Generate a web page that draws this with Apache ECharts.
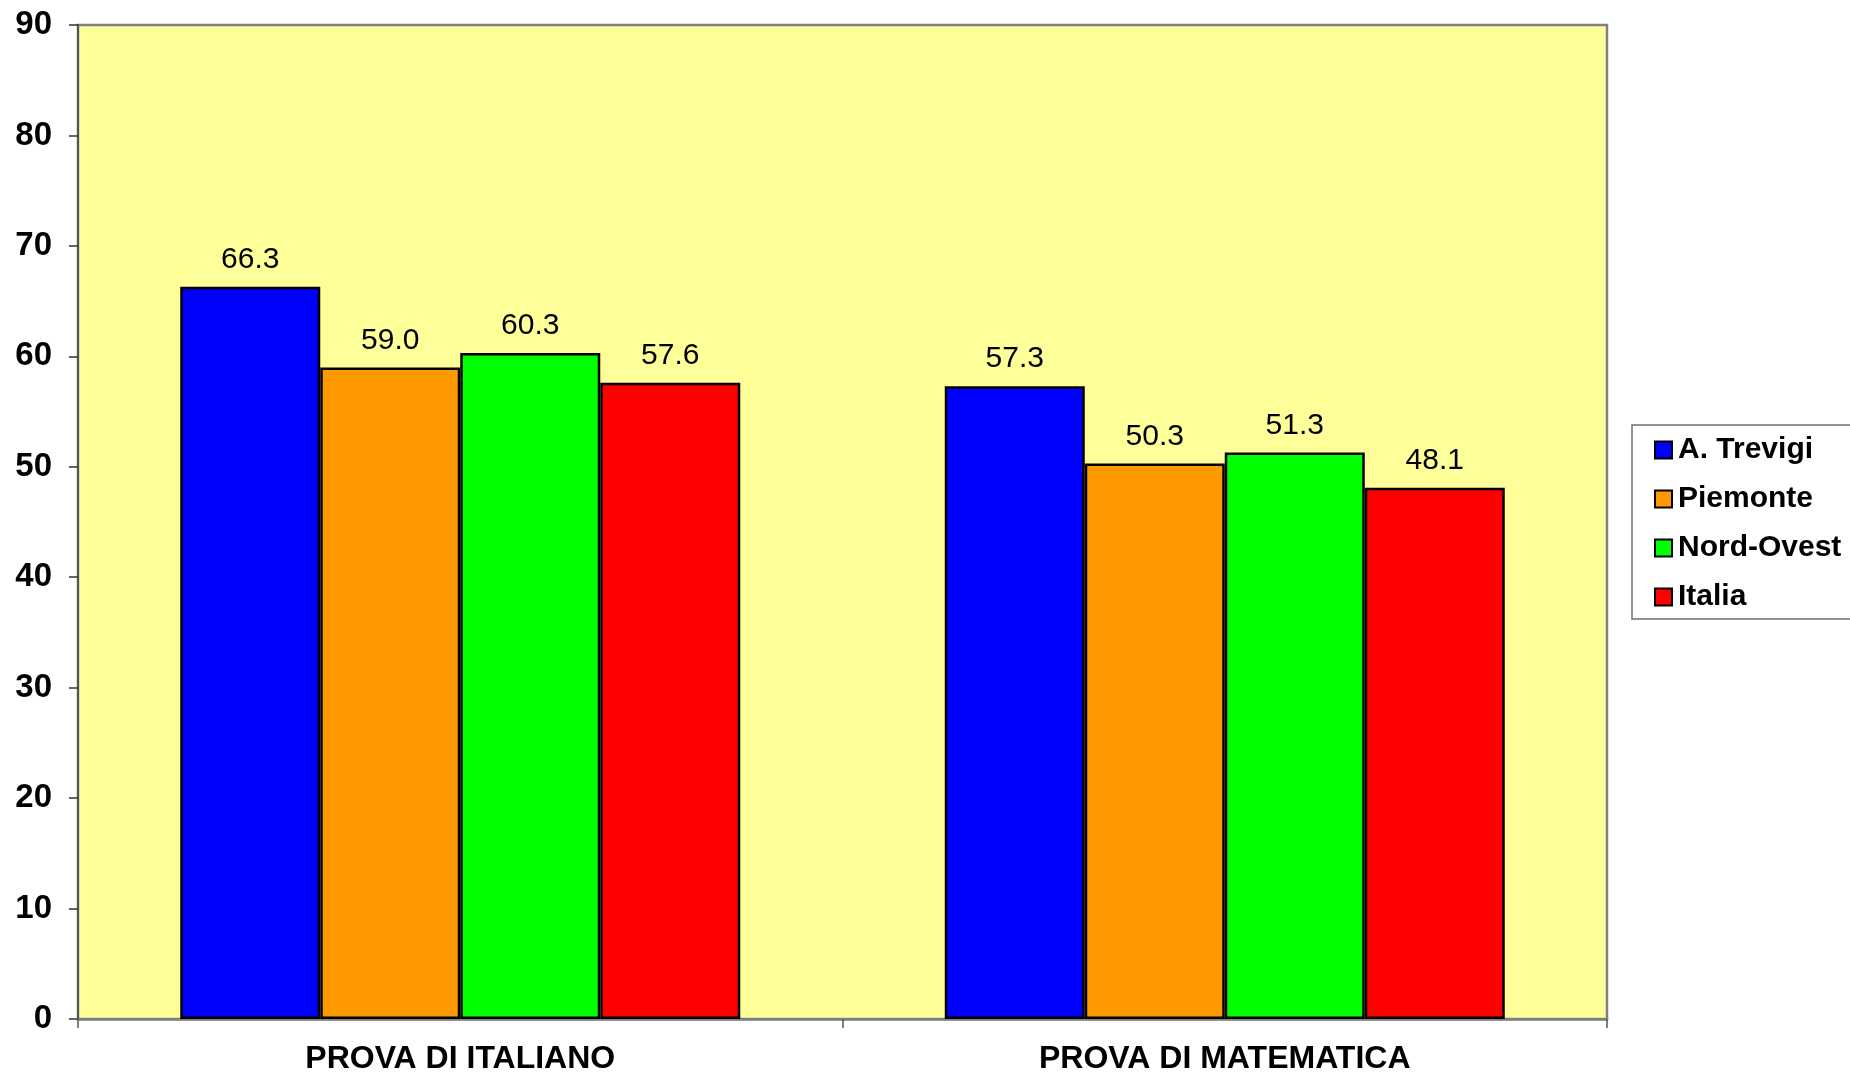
<!DOCTYPE html>
<html>
<head>
<meta charset="utf-8">
<style>
html,body{margin:0;padding:0;background:#fff;}
#chart{width:1850px;height:1073px;}
</style>
<script src="https://cdn.jsdelivr.net/npm/echarts@6/dist/echarts.min.js"></script>
</head>
<body>
<div id="chart"></div>
<script>
const categories = ['PROVA DI ITALIANO', 'PROVA DI MATEMATICA'];
const seriesNames = ['A. Trevigi', 'Piemonte', 'Nord-Ovest', 'Italia'];
const seriesColors = ['#0000FF', '#FF9900', '#00FF00', '#FF0000'];
const trevigi = [66.3, 57.3];
const piemonte = [59.0, 50.3];
const nordOvest = [60.3, 51.3];
const italia = [57.6, 48.1];
const yTicks = [0, 10, 20, 30, 40, 50, 60, 70, 80, 90];

const FONT = '"Liberation Sans", Arial, sans-serif';
const seriesData = [trevigi, piemonte, nordOvest, italia];

const chart = echarts.init(document.getElementById('chart'));
chart.setOption({
  animation: false,
  backgroundColor: '#ffffff',
  grid: {
    left: 78, right: 243, top: 25, bottom: 54,
    containLabel: false,
    outerBoundsMode: 'none',
    show: true,
    backgroundColor: '#FFFF99',
    borderColor: '#808080',
    borderWidth: 2.5
  },
  legend: {
    orient: 'vertical',
    left: 1632,
    top: 425,
    padding: [10, 60, 7, 22],
    itemGap: 19,
    itemWidth: 17,
    itemHeight: 17,
    borderColor: '#707070',
    borderWidth: 1.5,
    backgroundColor: '#ffffff',
    icon: 'rect',
    textStyle: { fontFamily: FONT, fontSize: 30, fontWeight: 'bold', color: '#000', padding: [0, 0, 0, 1] },
    data: seriesNames
  },
  xAxis: {
    type: 'category',
    data: categories,
    axisLine: { show: true, lineStyle: { color: '#808080', width: 2.5 } },
    axisTick: { show: true, length: 9, lineStyle: { color: '#555', width: 1.5 } },
    axisLabel: { fontFamily: FONT, fontSize: 32, fontWeight: 'bold', color: '#000', margin: 24 },
    splitLine: { show: false }
  },
  yAxis: {
    type: 'value',
    min: yTicks[0],
    max: yTicks[yTicks.length - 1],
    interval: 10,
    axisLine: { show: true, lineStyle: { color: '#555', width: 2 } },
    axisTick: { show: true, length: 9, lineStyle: { color: '#333', width: 1.5 } },
    axisLabel: { fontFamily: FONT, fontSize: 33, fontWeight: 'bold', color: '#000', margin: 26 },
    splitLine: { show: false }
  },
  series: seriesNames.map((name, i) => ({
    name: name,
    type: 'bar',
    data: seriesData[i],
    barWidth: 140,
    barGap: '0%',
    itemStyle: { color: seriesColors[i], borderColor: '#000', borderWidth: 2.5 },
    label: {
      show: true,
      position: 'top',
      distance: 12,
      fontFamily: FONT,
      fontSize: 30,
      color: '#000',
      formatter: p => p.value.toFixed(1)
    }
  }))
});
</script>
</body>
</html>
